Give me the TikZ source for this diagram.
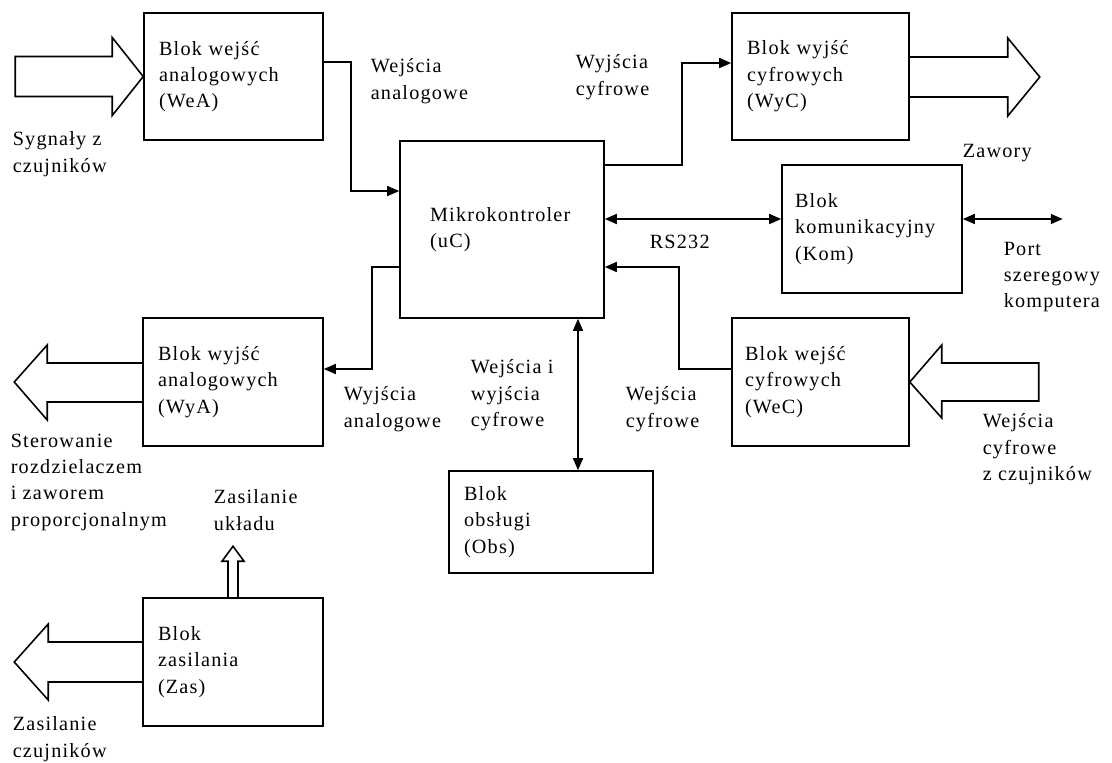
\documentclass[tikz,border=0pt]{standalone}
\usepackage{fontspec}
\setmainfont{Liberation Serif}[LetterSpace=6]
\usetikzlibrary{arrows.meta}

\tikzset{
  blok/.style={draw, align=left, inner xsep=0.3cm, inner ysep=0pt},
  opis/.style={align=left, anchor=north west, inner sep=0pt},
}

\begin{document}
\begin{tikzpicture}[x=0.02cm, y=-0.02cm, line width=0.9pt, >={Triangle[length=0.24cm, width=0.2cm]}, font=\fontsize{11.5}{15}\selectfont]
    \useasboundingbox (0,0) rectangle (1112,762);

    % bloki
    \node[blok, minimum width=3.58cm, text width=2.98cm, minimum height=2.54cm] (wea) at (233.5,76.5) {Blok wejść\\analogowych\\(WeA)};
    \node[blok, minimum width=3.6cm, text width=3cm, minimum height=2.56cm] (wya) at (233,382) {Blok wyjść\\analogowych\\(WyA)};
    \node[blok, minimum width=3.6cm, text width=3cm, minimum height=2.56cm] (zas) at (233,662) {Blok\\zasilania\\(Zas)};
    \node[blok, inner xsep=0.6cm, minimum width=4.08cm, text width=2.88cm, minimum height=3.54cm] (uc) at (502,229.5) {Mikrokontroler\\(uC)};
    \node[blok, minimum width=3.54cm, text width=2.94cm, minimum height=2.54cm] (wyc) at (820.5,76.5) {Blok wyjść\\cyfrowych\\(WyC)};
    \node[blok, inner xsep=0.26cm, minimum width=3.6cm, text width=3.08cm, minimum height=2.56cm] (kom) at (872,229) {Blok\\komunikacyjny\\(Kom)};
    \node[blok, inner xsep=0.26cm, minimum width=3.54cm, text width=3.02cm, minimum height=2.56cm] (wec) at (820.5,382) {Blok wejść\\cyfrowych\\(WeC)};
    \node[blok, minimum width=4.08cm, text width=3.48cm, minimum height=2.04cm] (obs) at (551,522) {Blok\\obsługi\\(Obs)};
    \coordinate (port) at ([xshift=2cm,yshift=0.2cm]kom.east);

    % szerokie strzalki
    \draw (wea.west) -- ++(-31,-39) -- ++(0,19) -- ++(-97,0) -- ++(0,40) -- ++(97,0) -- ++(0,19) -- cycle;
    \draw ([yshift=0.39cm]wyc.east) -- ++(98,0) -- ++(0,-19) -- ++(32,39) -- ++(-32,39) -- ++(0,-19) -- ++(-98,0);
    \draw ([yshift=0.38cm]wya.west) -- ++(-95,0) -- ++(0,-18) -- ++(-33,37) -- ++(33,38) -- ++(0,-18) -- ++(95,0);
    \draw ([yshift=0.4cm]zas.west) -- ++(-94,0) -- ++(0,-18) -- ++(-34,38) -- ++(34,38) -- ++(0,-18) -- ++(94,0);
    \draw (wec.east) -- ++(32,-37) -- ++(0,18) -- ++(97,0) -- ++(0,38) -- ++(-97,0) -- ++(0,17) -- cycle;
    \draw ([xshift=-0.1cm]zas.north) -- ++(0,-36) -- ++(-6,0) -- ++(11,-15) -- ++(11,15) -- ++(-6,0) -- ++(0,36);

    % polaczenia
    \draw[->] ([yshift=0.29cm]wea.east) -- ++(27,0) |- ([yshift=0.77cm]uc.west);
    \draw[->] ([yshift=1.29cm]uc.east) -- ++(77,0) |- ([yshift=0.27cm]wyc.west);
    \draw[<->] ([yshift=0.2cm]kom.west -| uc.east) -- ([yshift=0.2cm]kom.west);
    \draw[<->] ([yshift=0.2cm]kom.east) -- (port);
    \draw[->] ([yshift=0.26cm]wec.west) -- ++(-52,0) |- ([yshift=-0.75cm]uc.east);
    \draw[->] ([yshift=-0.75cm]uc.west) -- ++(-27,0) |- ([yshift=0.26cm]wya.east);
    \draw[<->] ([xshift=0.54cm]obs.north |- uc.south) -- ([xshift=0.54cm]obs.north);

    % opisy
    \node[opis] (sygn) at (12,131) {Sygnały z\\czujników};
    \node[opis] (wean) at (370,58) {Wejścia\\analogowe};
    \node[opis] (wycf) at (575,54) {Wyjścia\\cyfrowe};
    \node[opis] (zaw) at (962,143) {Zawory};
    \node[opis] (rs) at (649,234) {RS232};
    \node[opis] (portl) at (1003,241) {Port\\szeregowy\\komputera};
    \node[opis] (wyan) at (343,386) {Wyjścia\\analogowe};
    \node[opis] (weiwy) at (470,359) {Wejścia i\\wyjścia\\cyfrowe};
    \node[opis] (wecf) at (625,386) {Wejścia\\cyfrowe};
    \node[opis] (wecz) at (982,413) {Wejścia\\cyfrowe\\z czujników};
    \node[opis] (ster) at (10,433) {Sterowanie\\rozdzielaczem\\i zaworem\\proporcjonalnym};
    \node[opis] (zasu) at (213,489) {Zasilanie\\układu};
    \node[opis] (zascz) at (12,716) {Zasilanie\\czujników};
\end{tikzpicture}
\end{document}
